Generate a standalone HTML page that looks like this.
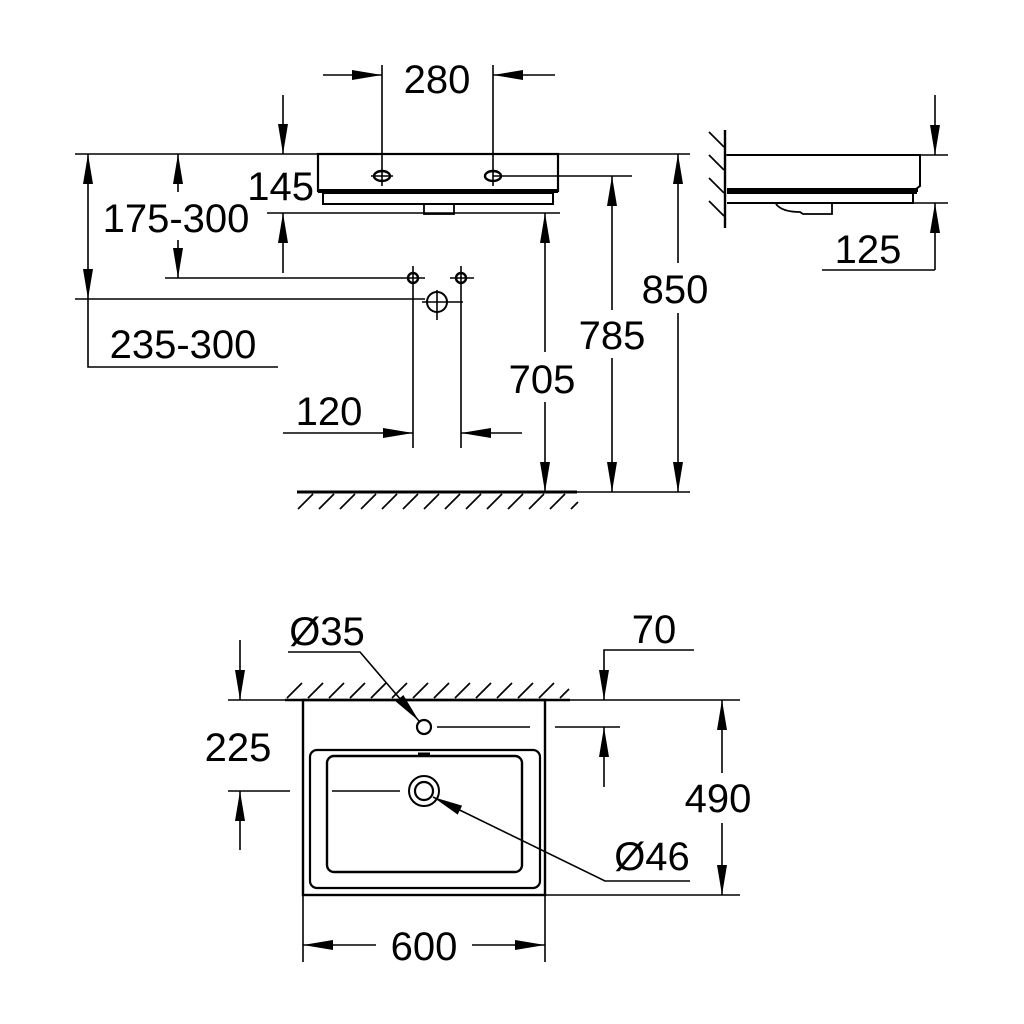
<!DOCTYPE html>
<html><head><meta charset="utf-8"><style>
html,body{margin:0;padding:0;background:#fff}
svg{display:block}
text{font-family:"Liberation Sans",sans-serif;font-size:40px;fill:#000}
</style></head><body>
<svg width="1024" height="1024" viewBox="0 0 1024 1024" xmlns="http://www.w3.org/2000/svg">
<defs>
<marker id="a" viewBox="0 0 30 10" refX="30" refY="5" markerWidth="30" markerHeight="10" markerUnits="userSpaceOnUse" orient="auto"><path d="M0,0L30,5L0,10z" fill="#000"/></marker>
</defs>
<g stroke="#000" stroke-width="1.6" fill="none">
<!-- FRONT VIEW -->
<line x1="75" y1="154" x2="690" y2="154"/>
<rect x="318" y="154" width="240" height="37" stroke-width="2.2"/>
<rect x="318" y="189" width="240" height="4" fill="#000" stroke="none"/>
<rect x="323" y="193" width="230" height="11" stroke-width="2"/>
<rect x="424" y="204" width="30" height="10" stroke-width="1.8"/>
<line x1="267" y1="213" x2="560" y2="213"/>
<ellipse cx="382" cy="176" rx="8" ry="5" stroke-width="2.4"/>
<ellipse cx="493" cy="176" rx="8" ry="5" stroke-width="2.4"/>
<line x1="371" y1="176" x2="393" y2="176"/>
<line x1="493" y1="176" x2="632" y2="176"/>
<line x1="382" y1="65" x2="382" y2="186"/>
<line x1="493" y1="65" x2="493" y2="186"/>
<line x1="323" y1="75" x2="382" y2="75" marker-end="url(#a)"/>
<line x1="555" y1="75" x2="493" y2="75" marker-end="url(#a)"/>
<line x1="283" y1="95" x2="283" y2="154" marker-end="url(#a)"/>
<line x1="283" y1="273" x2="283" y2="213" marker-end="url(#a)"/>
<line x1="178" y1="192" x2="178" y2="154" marker-end="url(#a)"/>
<line x1="178" y1="240" x2="178" y2="278" marker-end="url(#a)"/>
<line x1="165" y1="278" x2="425" y2="278"/>
<line x1="88" y1="226" x2="88" y2="154" marker-end="url(#a)"/>
<line x1="88" y1="226" x2="88" y2="299" marker-end="url(#a)"/>
<line x1="75" y1="299" x2="425" y2="299"/>
<polyline points="88,299 88,367 278,367"/>
<circle cx="413" cy="278" r="5" stroke-width="2.4"/>
<circle cx="461" cy="278" r="5" stroke-width="2.4"/>
<line x1="413" y1="266" x2="413" y2="448"/>
<line x1="461" y1="266" x2="461" y2="448"/>
<line x1="450" y1="278" x2="474" y2="278"/>
<circle cx="437" cy="302" r="10" stroke-width="2"/>
<line x1="437" y1="290" x2="437" y2="320"/>
<line x1="422" y1="302" x2="463" y2="302"/>
<line x1="283" y1="433" x2="413" y2="433" marker-end="url(#a)"/>
<line x1="522" y1="433" x2="461" y2="433" marker-end="url(#a)"/>
<line x1="545" y1="352" x2="545" y2="213" marker-end="url(#a)"/>
<line x1="545" y1="402" x2="545" y2="492" marker-end="url(#a)"/>
<line x1="612" y1="310" x2="612" y2="176" marker-end="url(#a)"/>
<line x1="612" y1="358" x2="612" y2="492" marker-end="url(#a)"/>
<line x1="678" y1="263" x2="678" y2="154" marker-end="url(#a)"/>
<line x1="678" y1="313" x2="678" y2="492" marker-end="url(#a)"/>
<line x1="297" y1="492" x2="577" y2="492" stroke-width="3"/>
<line x1="577" y1="492" x2="690" y2="492"/>
<path stroke-width="1.7" d="M298,509l15,-15M319,509l15,-15M340,509l15,-15M361,509l15,-15M382,509l15,-15M403,509l15,-15M424,509l15,-15M445,509l15,-15M466,509l15,-15M487,509l15,-15M508,509l15,-15M529,509l15,-15M550,509l15,-15M571,509l7,-7"/>
<!-- SIDE VIEW -->
<line x1="725" y1="130" x2="725" y2="228" stroke-width="2.4"/>
<path stroke-width="1.7" d="M709,132l15,15M709,155l15,15M709,178l15,15M709,201l15,15"/>
<line x1="725" y1="155" x2="948" y2="155"/>
<path d="M727,155H920V186L916,189V193H727" stroke-width="2"/>
<rect x="727" y="188" width="191" height="4" fill="#000" stroke="none"/>
<path d="M727,203H913V193" stroke-width="2"/>
<line x1="727" y1="203" x2="948" y2="203"/>
<path d="M776,204Q782,212 800,212L803,214H832V204" stroke-width="1.8"/>
<line x1="935" y1="95" x2="935" y2="155" marker-end="url(#a)"/>
<line x1="935" y1="270" x2="935" y2="203" marker-end="url(#a)"/>
<line x1="822" y1="270" x2="935" y2="270"/>
<!-- TOP VIEW -->
<path stroke-width="1.7" d="M287,698l15,-15M308,698l15,-15M329,698l15,-15M350,698l15,-15M371,698l15,-15M392,698l15,-15M413,698l15,-15M434,698l15,-15M455,698l15,-15M476,698l15,-15M497,698l15,-15M518,698l15,-15M539,698l15,-15M560,698l9,-9"/>
<line x1="285" y1="700" x2="570" y2="700" stroke-width="2.6"/>
<line x1="570" y1="700" x2="740" y2="700"/>
<line x1="228" y1="700" x2="285" y2="700"/>
<rect x="303" y="700" width="242" height="195" stroke-width="2.4"/>
<line x1="545" y1="895" x2="740" y2="895"/>
<rect x="310" y="750" width="230" height="138" rx="7" stroke-width="2.2"/>
<rect x="327" y="756" width="195" height="116" rx="7" stroke-width="2.4"/>
<line x1="418" y1="754" x2="430" y2="754" stroke-width="3"/>
<circle cx="424" cy="727" r="7" stroke-width="2.2"/>
<line x1="437" y1="727" x2="530" y2="727"/>
<line x1="555" y1="727" x2="620" y2="727"/>
<circle cx="424" cy="791" r="9" stroke-width="2.2"/>
<circle cx="424" cy="791" r="15" stroke-width="2"/>
<line x1="332" y1="791" x2="400" y2="791"/>
<line x1="228" y1="791" x2="290" y2="791"/>
<polyline points="288,652 360,652 419,721" marker-end="url(#a)"/>
<polyline points="690,881 605,881 433,797" marker-end="url(#a)"/>
<polyline points="694,650 604,650 604,700" marker-end="url(#a)"/>
<line x1="604" y1="787" x2="604" y2="727" marker-end="url(#a)"/>
<line x1="240" y1="640" x2="240" y2="700" marker-end="url(#a)"/>
<line x1="240" y1="850" x2="240" y2="791" marker-end="url(#a)"/>
<line x1="722" y1="773" x2="722" y2="700" marker-end="url(#a)"/>
<line x1="722" y1="823" x2="722" y2="895" marker-end="url(#a)"/>
<line x1="303" y1="895" x2="303" y2="962"/>
<line x1="545" y1="895" x2="545" y2="962"/>
<line x1="376" y1="945" x2="303" y2="945" marker-end="url(#a)"/>
<line x1="472" y1="945" x2="545" y2="945" marker-end="url(#a)"/>
</g>
<text x="437" y="93" text-anchor="middle">280</text>
<text x="314" y="200" text-anchor="end">145</text>
<text x="176" y="232" text-anchor="middle">175-300</text>
<text x="183" y="358" text-anchor="middle">235-300</text>
<text x="329" y="425" text-anchor="middle">120</text>
<text x="542" y="393" text-anchor="middle">705</text>
<text x="612" y="349" text-anchor="middle">785</text>
<text x="675" y="303" text-anchor="middle">850</text>
<text x="868" y="263" text-anchor="middle">125</text>
<text x="327" y="645" text-anchor="middle">Ø35</text>
<text x="654" y="643" text-anchor="middle">70</text>
<text x="238" y="761" text-anchor="middle">225</text>
<text x="718" y="812" text-anchor="middle">490</text>
<text x="652" y="870" text-anchor="middle">Ø46</text>
<text x="424" y="960" text-anchor="middle">600</text>
</svg>
</body></html>
